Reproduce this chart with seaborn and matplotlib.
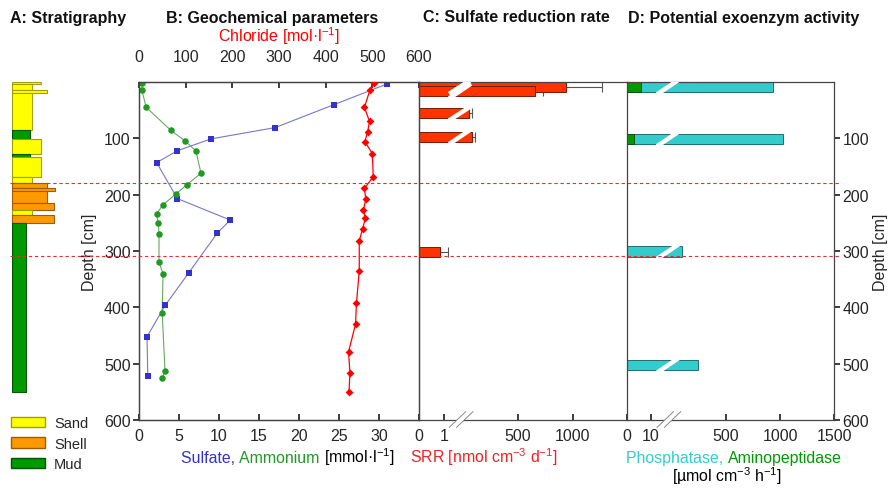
import numpy as np
import matplotlib
matplotlib.use("Agg")
import matplotlib.pyplot as plt
import matplotlib.transforms as mtransforms
from matplotlib.patches import Patch, Polygon
import seaborn as sns

# A: stratigraphy layers (depth in cm, width = grain-size index)
layer_top = [0, 4, 14, 20, 86, 101, 127, 134, 169, 180, 188, 193, 215, 227, 236, 251]
layer_bottom = [4, 14, 20, 86, 101, 127, 134, 169, 180, 188, 193, 215, 227, 236, 251, 550]
layer_type = ["Sand", "Sand", "Sand", "Sand", "Mud", "Sand", "Mud", "Sand", "Sand",
              "Shell", "Shell", "Shell", "Shell", "Sand", "Shell", "Mud"]
layer_width = [29, 20.3, 35.3, 20.3, 18.3, 29, 18.3, 29, 20.3, 35, 43.3, 35, 42.3, 20.3, 42.3, 14.3]

# B: geochemistry
sulfate_depth = [3.5, 40, 81, 101, 122, 143, 207, 245, 268, 339, 396, 452, 522]
sulfate = [31.0, 24.4, 17.0, 9.0, 4.8, 2.2, 4.8, 11.4, 9.8, 6.2, 3.3, 1.0, 1.1]
ammonium_depth = [2, 14, 45, 86, 104, 122, 162, 182, 199, 218, 234, 250, 270, 320, 340, 410, 513, 526]
ammonium = [0.4, 0.35, 0.9, 4.0, 5.7, 7.1, 7.75, 6.0, 4.6, 3.0, 2.2, 2.4, 2.5, 2.5, 3.0, 2.9, 3.25, 2.9]
chloride_depth = [2, 14, 45, 70, 88, 106, 127, 168, 189, 208, 227, 242, 261, 282, 335, 392, 430, 479, 516, 550]
chloride = [504, 495, 483, 494, 490, 484, 500, 502, 483, 486, 481, 485, 479, 472, 472, 466, 464, 449, 452, 450]

# C: sulfate reduction rate
srr_top = [0, 7, 47, 88, 293]
srr_bottom = [17, 25, 64, 106, 311]
srr = [937, 656, 53, 75, 0.84]
srr_err = [333, 70, 25, 26, 0.33]

# D: exoenzyme activity
enz_top = [0, 92, 292, 494]
enz_bottom = [18, 110, 310, 512]
phosphatase = [932, 1027, 90, 244]
aminopeptidase = [5.8, 3.0, 0, 0]

boundaries = [180, 308]

layer_colors = {"Sand": "#FFFF00", "Shell": "#FF9900", "Mud": "#009900"}
layer_edges = {"Sand": "#A0A000", "Shell": "#A05A00", "Mud": "#005500"}
c_sulf, c_amm, c_cl = "#3333CC", "#229922", "#FF0000"
c_srr, c_pho, c_amp = "#FF3300", "#33CCCC", "#009900"

sns.set_theme(style="ticks")
plt.rcParams["font.family"] = ["Liberation Sans", "DejaVu Sans"]
plt.rcParams["mathtext.default"] = "regular"
plt.rcParams["axes.linewidth"] = 0.9
plt.rcParams["axes.edgecolor"] = "#444444"


# broken axes: first segment 0..b linear, then a second linear segment (pixels of the axis)
def make_break(b, k1, off, k2):
    gap_lo, gap_hi = b * k1, off + b * k2

    def fwd(v):
        v = np.asarray(v, dtype=float)
        return np.where(v <= b, v * k1, off + v * k2)

    def inv(p):
        p = np.asarray(p, dtype=float)
        return np.where(p <= gap_lo, p / k1, np.where(p < gap_hi, b, (p - off) / k2))
    return fwd, inv


W, H = 893, 489
fig = plt.figure(figsize=(W / 100, H / 100), dpi=100)


def fx(px):
    return px / W


def fy(py):
    return 1 - py / H


ax_top, ax_bot = 83, 421
bottom, height = fy(ax_bot), (ax_bot - ax_top) / H
axA = fig.add_axes([fx(11.7), bottom, fx(50), height])
axB = fig.add_axes([fx(139), bottom, fx(280), height], sharey=axA)
axC = fig.add_axes([fx(419), bottom, fx(208), height], sharey=axA)
axD = fig.add_axes([fx(627), bottom, fx(207), height], sharey=axA)
axA.set_ylim(600, 0)

# A: stratigraphy
for t, b, k, w in zip(layer_top, layer_bottom, layer_type, layer_width):
    axA.barh(t, w, height=b - t, left=0, align="edge", color=layer_colors[k],
             edgecolor=layer_edges[k], linewidth=0.8)
axA.set_xlim(0, 50)
axA.axis("off")

# B: geochemical profiles
sns.lineplot(x=sulfate, y=sulfate_depth, sort=False, estimator=None, color="#7777CC",
             lw=0.8, ax=axB)
sns.scatterplot(x=sulfate, y=sulfate_depth, marker="s", s=24, color=c_sulf, edgecolor=c_sulf,
                linewidth=0, ax=axB, zorder=3)
sns.lineplot(x=ammonium, y=ammonium_depth, sort=False, estimator=None, color="#66AA66",
             lw=0.8, ax=axB)
sns.scatterplot(x=ammonium, y=ammonium_depth, marker="o", s=22, color=c_amm, edgecolor=c_amm,
                linewidth=0, ax=axB, zorder=3)
axB.set_xlim(0, 35)
axB.set_xticks([0, 5, 10, 15, 20, 25, 30])
axB.set_yticks([100, 200, 300, 400, 500, 600])
axB.tick_params(axis="y", direction="out", length=4, pad=2, labelsize=11.5, left=True)
axB.tick_params(axis="x", direction="in", length=4, pad=6, labelsize=11.5)
axB.set_ylabel("Depth [cm]", fontsize=11.5, labelpad=5)
axB.set_xlabel("")

axCl = axB.twiny()
sns.lineplot(x=chloride, y=chloride_depth, sort=False, estimator=None, color=c_cl,
             lw=0.9, ax=axCl)
sns.scatterplot(x=chloride, y=chloride_depth, marker="D", s=16, color=c_cl, edgecolor=c_cl,
                linewidth=0, ax=axCl, zorder=3)
axCl.set_xlim(0, 600)
axCl.set_xticks([0, 100, 200, 300, 400, 500, 600])
axCl.tick_params(axis="x", direction="in", length=4, pad=13, labelsize=11.5)
axCl.set_xlabel("Chloride [mol·l$^{-1}$]", color=c_cl, fontsize=11.5, labelpad=6)
axCl.set_ylabel("")
axCl.set_ylim(600, 0)

# C: SRR with broken x axis
c_fwd, c_inv = make_break(1.2, 25.0, 44.5, 0.109)
axC.set_xscale("function", functions=(c_fwd, c_inv))
axC.barh(srr_top, srr, height=np.subtract(srr_bottom, srr_top), left=0, align="edge",
         color=c_srr, edgecolor="#7A1A00", linewidth=0.7, zorder=2)
srr_mid = (np.array(srr_top) + np.array(srr_bottom)) / 2
axC.errorbar(srr, srr_mid, xerr=[np.zeros(len(srr)), srr_err], fmt="none", ecolor="#555555",
             elinewidth=0.8, capsize=3.5, capthick=0.8, zorder=1)
axC.set_xlim(0, 1500)
axC.set_xticks([0, 1, 500, 1000])
axC.set_xticklabels(["0", "1", "500", "1000"])
axC.tick_params(axis="x", direction="in", length=4, pad=6, labelsize=11.5)
axC.tick_params(axis="y", left=False, labelleft=False)

# D: exoenzymes with broken x axis
d_fwd, d_inv = make_break(12, 2.4, 45.0, 0.108)
axD.set_xscale("function", functions=(d_fwd, d_inv))
enz_h = np.subtract(enz_bottom, enz_top)
axD.barh(enz_top, phosphatase, height=enz_h, left=0, align="edge", color=c_pho,
         edgecolor="#1F6F6F", linewidth=0.7, zorder=2)
axD.barh(enz_top, aminopeptidase, height=enz_h, left=0, align="edge", color=c_amp,
         edgecolor="#005500", linewidth=0.7, zorder=2)
axD.set_xlim(0, 1500)
axD.set_xticks([0, 10, 500, 1000, 1500])
axD.set_xticklabels(["0", "10", "500", "1000", "1500"])
axD.tick_params(axis="x", direction="in", length=4, pad=6, labelsize=11.5)
axD.tick_params(axis="y", left=False, labelleft=False, right=True, labelright=True,
                direction="out", length=4, pad=2, labelsize=11.5)
axD.yaxis.set_label_position("right")
axD.set_ylabel("Depth [cm]", fontsize=11.5, labelpad=3)

for ax in (axB, axC, axD):
    for s in ax.spines.values():
        s.set_visible(True)
        s.set_color("#444444")
axB.spines["right"].set_visible(False)
axC.spines["right"].set_visible(False)
axC.set_ylim(600, 0)

# white slashes across the bars and break marks on the x axis
for ax, tops, bots in ((axC, srr_top[:4], srr_bottom[:4]), (axD, enz_top, enz_bottom)):
    tr = mtransforms.blended_transform_factory(ax.transAxes, ax.transData)
    for t, b in zip(tops, bots):
        ax.plot([0.145, 0.25], [b + 4, t - 4], color="white", lw=3.2, transform=tr,
                zorder=4, solid_capstyle="butt")
    ax.add_patch(Polygon([[0.145, -0.022], [0.225, 0.025], [0.26, 0.025], [0.18, -0.022]],
                         closed=True, transform=ax.transAxes, facecolor="white",
                         edgecolor="none", clip_on=False, zorder=5))
    for x0 in (0.145, 0.18):
        ax.plot([x0, x0 + 0.08], [-0.022, 0.025], color="#888888", lw=0.7,
                transform=ax.transAxes, clip_on=False, zorder=6)

# red dashed layer boundaries across the figure
trf = mtransforms.blended_transform_factory(fig.transFigure, axB.transData)
for d in boundaries:
    fig.lines.append(plt.Line2D([fx(10), fx(840)], [d, d], transform=trf, color="#E03030",
                                lw=0.8, ls=(0, (3, 2.5)), zorder=10))

# panel titles
title_kw = dict(fontsize=11.5, fontweight="bold", va="center", color="#111111")
fig.text(fx(10), fy(18), "A: Stratigraphy", ha="left", **title_kw)
fig.text(fx(272), fy(18), "B: Geochemical parameters", ha="center", **title_kw)
fig.text(fx(516), fy(18), "C: Sulfate reduction rate", ha="center", **title_kw)
fig.text(fx(744), fy(18), "D: Potential exoenzym activity", ha="center", **title_kw)


# multi-coloured axis labels, drawn piece by piece on a common baseline
def colored_text(x_px, y_px, parts, size=11.4):
    r = fig.canvas.get_renderer()
    x = x_px
    for s, c in parts:
        t = fig.text(fx(x), fy(y_px), s, color=c, ha="left", va="baseline", fontsize=size)
        x += t.get_window_extent(r).width


colored_text(181, 463, [("Sulfate, ", c_sulf), ("Ammonium ", c_amm),
                        ("[mmol·l$^{-1}$]", "black")])
colored_text(410, 463, [("SRR [nmol cm$^{-3}$ d$^{-1}$]", "#EE2222")])
colored_text(626, 463, [("Phosphatase, ", c_pho), ("Aminopeptidase", c_amp)])
colored_text(672, 482, [("[µmol cm$^{-3}$ h$^{-1}$]", "black")])

# stratigraphy legend
handles = [Patch(facecolor=layer_colors[k], edgecolor=layer_edges[k], label=k)
           for k in ("Sand", "Shell", "Mud")]
fig.legend(handles=handles, loc="upper left", bbox_to_anchor=(fx(11), fy(417)), frameon=False,
           handlelength=2.35, handleheight=0.7, labelspacing=0.45, handletextpad=0.6,
           borderpad=0, borderaxespad=0, prop={"family": "Liberation Sans", "size": 10.5})

fig.savefig("out.png", dpi=100)
